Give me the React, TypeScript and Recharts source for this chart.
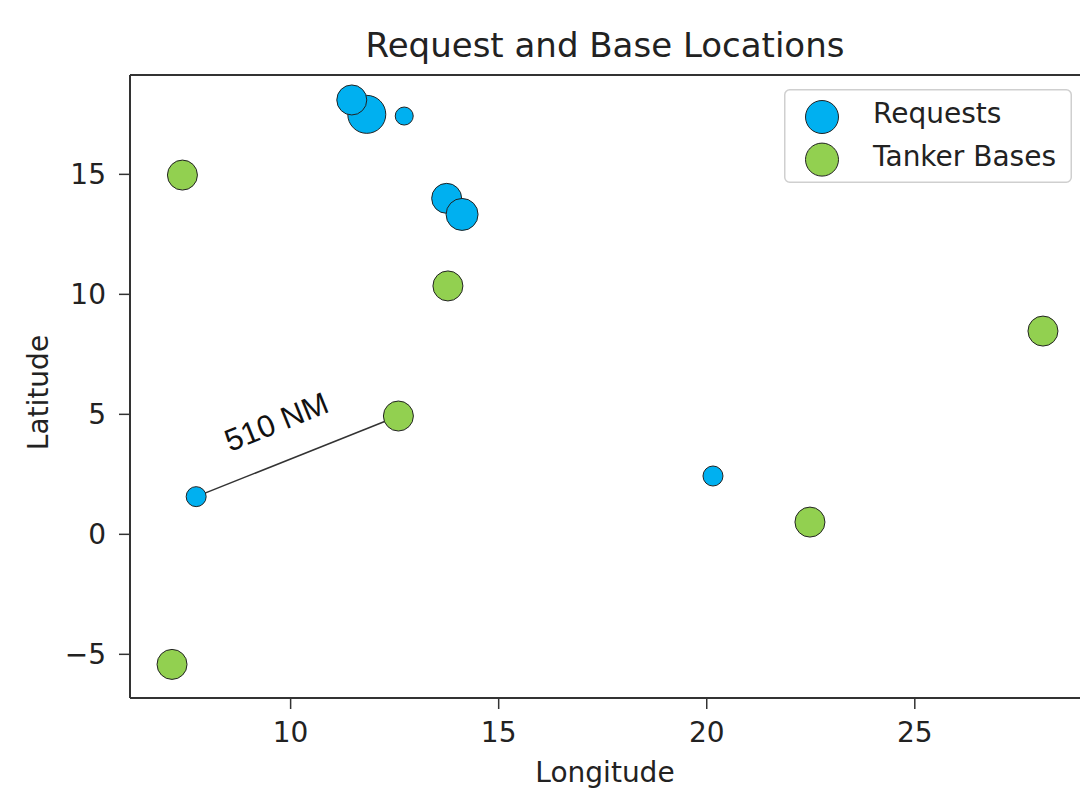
import {
  Legend,
  ReferenceDot,
  ReferenceLine,
  Scatter,
  ScatterChart,
  XAxis,
  YAxis,
  ZAxis,
} from "recharts";

// requests (blue) - size column is marker area (r^2)
const REQUEST_LON = [11.83, 11.47, 12.73, 13.75, 14.12, 7.73, 20.15];
const REQUEST_LAT = [17.5, 18.1, 17.43, 14.0, 13.33, 1.57, 2.43];
const REQUEST_SIZE = [361, 225, 81, 225, 256, 100, 100];

// tanker bases (green)
const BASE_LON = [7.4, 13.78, 12.59, 28.08, 22.48, 7.15];
const BASE_LAT = [14.97, 10.35, 4.93, 8.47, 0.51, -5.42];
const BASE_SIZE = [225, 225, 225, 225, 225, 225];

// request -> base link with its distance label
const LINK_LON = [7.73, 12.59];
const LINK_LAT = [1.57, 4.93];
const LINK_LABEL = "510 NM";
const LINK_LABEL_LON = 9.66;
const LINK_LABEL_LAT = 4.68;

const X_TICKS = [10, 15, 20, 25];
const Y_TICKS = [-5, 0, 5, 10, 15];
const X_DOMAIN: [number, number] = [6.14, 28.97];
const Y_DOMAIN: [number, number] = [-6.82, 19.14];

const FONT = "'DejaVu Sans', 'Liberation Sans', sans-serif";
const INK = "#222";
const AXIS = "#333";
const BLUE = "#00b0f0";
const GREEN = "#92d050";

const requests = REQUEST_LON.map((x, i) => ({ x, y: REQUEST_LAT[i], z: REQUEST_SIZE[i] }));
const bases = BASE_LON.map((x, i) => ({ x, y: BASE_LAT[i], z: BASE_SIZE[i] }));
const link = LINK_LON.map((x, i) => ({ x, y: LINK_LAT[i] }));

const minus = (v: number) => String(v).replace("-", "\u2212");

function LegendBox(props: any) {
  const items = (props.payload ?? []).filter((p: any) => p.type !== "none");
  return (
    <svg width={288} height={94} style={{ display: "block" }}>
      <rect x={0.75} y={0.75} width={286.5} height={92.5} rx={5} fill="#fff" stroke="#cfcfcf" strokeWidth={1.5} />
      {items.map((item: any, i: number) => (
        <g key={item.value}>
          <circle cx={38} cy={28 + i * 42.6} r={16.5} fill={item.color} stroke={INK} strokeWidth={1} />
          <text x={89} y={34 + i * 43} fontSize={28} fontFamily={FONT} fill={INK}>
            {item.value}
          </text>
        </g>
      ))}
    </svg>
  );
}

function LatitudeLabel(props: any) {
  const vb = props.viewBox ?? { x: 50, y: 75, width: 80, height: 623 };
  const x = vb.x - 12;
  const y = vb.y + vb.height / 2 + 6;
  return (
    <text
      x={x}
      y={y}
      transform={`rotate(-90 ${x} ${y})`}
      textAnchor="middle"
      dominantBaseline="central"
      fontSize={28}
      fontFamily={FONT}
      fill={INK}
    >
      Latitude
    </text>
  );
}

function DistanceLabel(props: any) {
  const { cx, cy } = props;
  return (
    <text
      x={cx}
      y={cy}
      transform={`rotate(-22 ${cx} ${cy})`}
      textAnchor="middle"
      dominantBaseline="central"
      fontSize={31}
      fontFamily="'Liberation Sans', Arial, sans-serif"
      fill="#111"
    >
      {LINK_LABEL}
    </text>
  );
}

export default function App() {
  return (
    <div style={{ position: "absolute", left: 0, top: 0, width: 1081, height: 789, background: "#fff" }}>
      <ScatterChart width={1081} height={789} margin={{ top: 75, right: 1, bottom: 31, left: 50 }}>
        <XAxis
          type="number"
          dataKey="x"
          domain={X_DOMAIN}
          ticks={X_TICKS}
          allowDataOverflow
          height={60}
          tickSize={11}
          tickMargin={13}
          axisLine={{ stroke: AXIS, strokeWidth: 2 }}
          tickLine={{ stroke: AXIS, strokeWidth: 1.5 }}
          tick={{ fill: INK, fontSize: 28, fontFamily: FONT }}
          label={{ value: "Longitude", position: "bottom", offset: 4, fill: INK, fontSize: 28, fontFamily: FONT }}
        />
        <YAxis
          type="number"
          dataKey="y"
          domain={Y_DOMAIN}
          ticks={Y_TICKS}
          allowDataOverflow
          width={80}
          tickSize={11}
          tickMargin={13}
          tickFormatter={minus}
          axisLine={{ stroke: AXIS, strokeWidth: 2 }}
          tickLine={{ stroke: AXIS, strokeWidth: 1.5 }}
          tick={{ fill: INK, fontSize: 28, fontFamily: FONT }}
          label={{ content: LatitudeLabel }}
        />
        <ZAxis type="number" dataKey="z" domain={[0, 400]} range={[0, 400 * Math.PI]} />
        <ReferenceLine y={Y_DOMAIN[1]} stroke={AXIS} strokeWidth={2} ifOverflow="visible" />
        <Scatter
          name="link"
          data={link}
          legendType="none"
          line={{ stroke: "#333", strokeWidth: 1.5 }}
          lineType="joint"
          shape={() => <g />}
          isAnimationActive={false}
        />
        <Scatter name="Requests" data={requests} fill={BLUE} stroke={INK} strokeWidth={1} isAnimationActive={false} />
        <Scatter name="Tanker Bases" data={bases} fill={GREEN} stroke={INK} strokeWidth={1} isAnimationActive={false} />
        <ReferenceDot x={LINK_LABEL_LON} y={LINK_LABEL_LAT} r={0} ifOverflow="visible" shape={DistanceLabel} />
        <Legend
          layout="horizontal"
          align="center"
          verticalAlign="middle"
          wrapperStyle={{ position: "absolute", left: 784, top: 89, width: 288, height: 94 }}
          content={LegendBox}
        />
      </ScatterChart>
      <div
        style={{
          position: "absolute",
          left: 130,
          top: 28,
          width: 950,
          textAlign: "center",
          fontFamily: FONT,
          fontSize: 34,
          lineHeight: "34px",
          color: INK,
        }}
      >
        Request and Base Locations
      </div>
    </div>
  );
}
